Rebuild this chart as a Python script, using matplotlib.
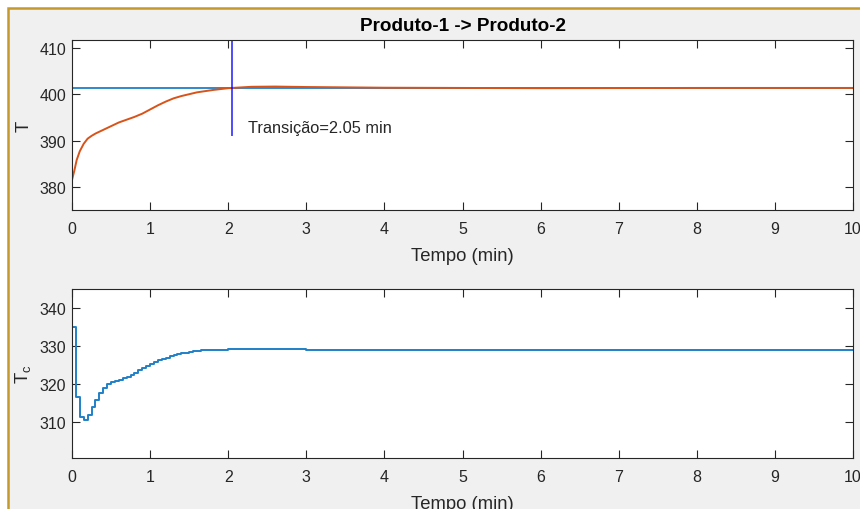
import matplotlib.pyplot as plt
from matplotlib.patches import Rectangle

plt.rcParams['font.family'] = ['Liberation Sans', 'DejaVu Sans']
plt.rcParams['mathtext.default'] = 'regular'

# temperatura do reator T (curva laranja)
t_T = [0.0, 0.03, 0.06, 0.1, 0.15, 0.2, 0.25, 0.3, 0.4, 0.5, 0.6, 0.7, 0.8,
       0.9, 1.0, 1.1, 1.2, 1.3, 1.4, 1.5, 1.6, 1.8, 2.0, 2.3, 2.6, 3.0,
       4.0, 6.0, 8.0, 10.0]
T = [381.5, 383.5, 385.8, 387.7, 389.3, 390.4, 391.0, 391.5, 392.3, 393.1,
     393.9, 394.5, 395.1, 395.8, 396.7, 397.6, 398.4, 399.1, 399.6, 400.0,
     400.4, 400.9, 401.3, 401.6, 401.65, 401.55, 401.4, 401.3, 401.35, 401.35]
T_set = 401.36
t_trans = 2.05
trans_y = [391.1, 420.0]

# temperatura da camisa Tc (degraus, amostragem 0.05 min)
t_Tc = [0.0, 0.05, 0.1, 0.15, 0.2, 0.25, 0.3, 0.35, 0.4, 0.45, 0.5, 0.55,
        0.6, 0.65, 0.7, 0.75, 0.8, 0.85, 0.9, 0.95, 1.0, 1.05, 1.1, 1.15,
        1.2, 1.25, 1.3, 1.35, 1.4, 1.45, 1.5, 1.55, 1.6, 1.65, 1.7, 1.75,
        1.8, 1.9, 2.0, 2.5, 3.0, 4.0, 5.0, 10.0]
Tc = [335.0, 316.6, 311.3, 310.6, 311.8, 313.9, 315.9, 317.7, 319.1, 320.0,
      320.5, 320.9, 321.2, 321.5, 321.9, 322.4, 323.0, 323.6, 324.2, 324.8,
      325.4, 325.9, 326.3, 326.7, 327.0, 327.3, 327.6, 327.9, 328.1, 328.3,
      328.5, 328.6, 328.75, 328.85, 328.95, 329.0, 329.05, 329.1, 329.15,
      329.15, 329.1, 329.05, 329.05, 329.05]

xticks = list(range(0, 11))
T_ticks = [380, 390, 400, 410]
Tc_ticks = [310, 320, 330, 340]

W, H = 860, 510
fig = plt.figure(figsize=(W / 100, H / 100), dpi=100, facecolor='white')
fig.add_artist(Rectangle((8 / W, -0.1), 1.2, 1.1 - 9 / H, transform=fig.transFigure,
                         facecolor='#f0f0f0', edgecolor='#c49a2c', lw=1.8, zorder=0))

ax1 = fig.add_axes([72 / W, 1 - 211 / H, 781 / W, 170 / H])
ax2 = fig.add_axes([72 / W, 1 - 459 / H, 781 / W, 169 / H])

dark = '#262626'
for ax in (ax1, ax2):
    ax.set_xlim(0, 10)
    ax.set_xticks(xticks)
    ax.tick_params(direction='in', length=5.6, width=0.8, colors=dark,
                   labelsize=11.5, top=True, right=True)
    ax.tick_params(axis='x', pad=8)
    ax.tick_params(axis='y', pad=4)
    for s in ax.spines.values():
        s.set_color(dark)
        s.set_linewidth(0.8)
    ax.set_xlabel('Tempo (min)', fontsize=13.3, color=dark, labelpad=7.5)

ax1.axhline(T_set, color='#1f80c8', lw=1.3)
ax1.plot(t_T, T, color='#D95319', lw=1.4)
ax1.plot([t_trans, t_trans], trans_y, color='#0000ff', lw=1.4, alpha=0.7)
ax1.text(t_trans + 0.2, 392.8, 'Transição=%.2f min' % t_trans, fontsize=11.8,
         color=dark, va='center', ha='left')
ax1.set_ylim(375.0, 411.7)
ax1.set_yticks(T_ticks)
ax1.set_ylabel('T', fontsize=13.3, color=dark, labelpad=5)
ax1.set_title('Produto-1 -> Produto-2', fontsize=13.6, fontweight='bold',
              color='black', pad=7)

ax2.step(t_Tc, Tc, where='post', color='#1f80c8', lw=1.4)
ax2.set_ylim(300.6, 345.0)
ax2.set_yticks(Tc_ticks)
ax2.set_ylabel('T$_c$', fontsize=13.3, color=dark, labelpad=5)

fig.savefig('out.png', dpi=100, facecolor=fig.get_facecolor())
